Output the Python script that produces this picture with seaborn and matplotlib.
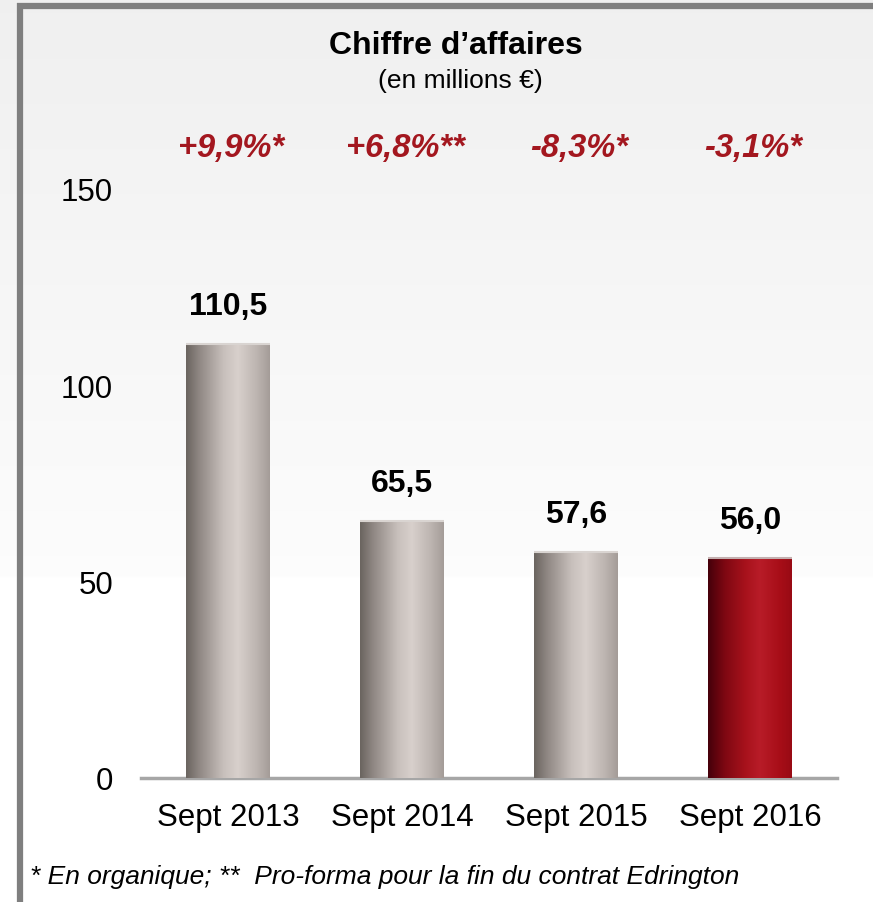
import numpy as np
import pandas as pd
import matplotlib
matplotlib.use("Agg")
import matplotlib.pyplot as plt
import matplotlib.transforms as mtransforms
from matplotlib.colors import LinearSegmentedColormap
import seaborn as sns

# ---- data ----
categories = ["Sept 2013", "Sept 2014", "Sept 2015", "Sept 2016"]
values = [110.5, 65.5, 57.6, 56.0]
value_labels = ["110,5", "65,5", "57,6", "56,0"]
growth_labels = ["+9,9%*", "+6,8%**", "-8,3%*", "-3,1%*"]
y_ticks = [0, 50, 100, 150]
title = "Chiffre d\u2019affaires"
subtitle = "(en millions \u20ac)"
footnote = "* En organique; **  Pro-forma pour la fin du contrat Edrington"

sns.set_theme(style="white")
plt.rcParams["font.family"] = ["Liberation Sans", "DejaVu Sans"]

W, H = 873, 903
fig = plt.figure(figsize=(W / 100, H / 100), dpi=100)

# background gradient
bg = fig.add_axes([0, 0, 1, 1], zorder=-10)
bg.set_axis_off()
rows = np.linspace(0, 1, 600)  # 0 top -> 1 bottom
shade = np.where(rows < 0.64, 0.94 + (rows / 0.64) * 0.05, 1.0)
img = np.repeat(shade[:, None], 2, axis=1)
bg.imshow(np.dstack([img, img, img]), aspect="auto", extent=[0, 1, 0, 1],
          transform=bg.transAxes, interpolation="bilinear")
bg.set_xlim(0, 1)
bg.set_ylim(0, 1)

# frame (left + top)
frame_col = "#7f7f7f"
bg.add_line(plt.Line2D([20 / W, 20 / W], [0, 1 - 4 / H], color=frame_col,
                       lw=4.5, transform=bg.transAxes, solid_capstyle="butt"))
bg.add_line(plt.Line2D([17 / W, 1], [1 - 7.2 / H, 1 - 7.2 / H], color=frame_col,
                       lw=4.5, transform=bg.transAxes, solid_capstyle="butt"))

# main axes
ax = fig.add_axes([141 / W, 124 / H, (837 - 141) / W, (779 - 190) / H])
ax.patch.set_alpha(0)
df = pd.DataFrame({"cat": categories, "val": values})
sns.barplot(data=df, x="cat", y="val", ax=ax, width=0.48, color="#c0b8b4",
            saturation=1, edgecolor="none", zorder=2)
ax.set_xlim(-0.5, 3.5)
ax.set_ylim(0, 150)
ax.set_yticks(y_ticks)
ax.set_yticklabels([str(t) for t in y_ticks])
ax.tick_params(axis="y", length=0, pad=20, labelsize=22.5, labelcolor="black")
ax.tick_params(axis="x", length=0, pad=17, labelsize=22.5, labelcolor="black")
ax.set_xlabel("")
ax.set_ylabel("")
for s in ["top", "right", "left"]:
    ax.spines[s].set_visible(False)
ax.spines["bottom"].set_color("#a6a6a6")
ax.spines["bottom"].set_linewidth(2.5)
ax.spines["bottom"].set_zorder(1)

gray_cmap = LinearSegmentedColormap.from_list(
    "g", [(0, "#6a645f"), (0.15, "#8e8682"), (0.45, "#c8c0bc"), (0.62, "#d8d0cc"),
          (0.85, "#bcb4b0"), (1, "#a49c98")])
red_cmap = LinearSegmentedColormap.from_list(
    "r", [(0, "#45000a"), (0.2, "#7e0812"), (0.45, "#a8121c"), (0.62, "#b81c28"),
          (0.85, "#a80e18"), (1, "#980a14")])
grad = np.linspace(0, 1, 256)[None, :]
for i, p in enumerate(ax.patches):
    x0, y0 = p.get_x(), p.get_y()
    w, h = p.get_width(), p.get_height()
    cmap = red_cmap if i == len(ax.patches) - 1 else gray_cmap
    im = ax.imshow(grad, cmap=cmap, aspect="auto", extent=[x0, x0 + w, y0, y0 + h],
                   zorder=3, interpolation="bilinear")
    im.set_clip_path(p)
    p.set_facecolor("none")
    # subtle top rim
    ax.plot([x0, x0 + w], [y0 + h, y0 + h], color="#d9d4d1" if i < 3 else "#c4b0b0",
            lw=1.5, zorder=4, solid_capstyle="butt")
    ax.annotate(value_labels[i], (x0 + w / 2, y0 + h), xytext=(0, 27.5),
                textcoords="offset points", ha="center", va="center",
                fontsize=23, fontweight="bold", color="black")

ax.set_xlim(-0.5, 3.5)
ax.set_ylim(0, 150)

# growth labels
trans = mtransforms.blended_transform_factory(ax.transData, fig.transFigure)
for i, g in enumerate(growth_labels):
    ax.text(i + 0.02, 1 - 149 / H, g, transform=trans, ha="center", va="center",
            fontsize=23.5, fontweight="bold", fontstyle="italic", color="#a3171f")

fig.text(456 / W, 1 - 46 / H, title, ha="center", va="center", fontsize=23,
         fontweight="bold", color="black")
fig.text(460 / W, 1 - 81 / H, subtitle, ha="center", va="center", fontsize=19,
         color="black")
fig.text(30 / W, 1 - 877 / H, footnote, ha="left", va="center", fontsize=19,
         fontstyle="italic", color="black")

fig.savefig("out.png", dpi=100)
